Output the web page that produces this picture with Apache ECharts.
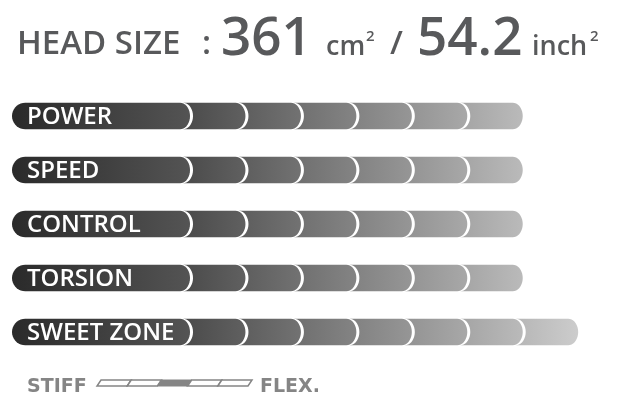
<!DOCTYPE html>
<html>
<head>
<meta charset="utf-8">
<script src="https://cdn.jsdelivr.net/npm/echarts@6/dist/echarts.min.js"></script>
<style>
  html, body { margin: 0; padding: 0; background: #fff; }
  #chart { width: 623px; height: 409px; }
</style>
</head>
<body>
<div id="chart"></div>
<script>
// data
const categories = ['POWER', 'SPEED', 'CONTROL', 'TORSION', 'SWEET ZONE']
const ratings = [6, 6, 6, 6, 7]
const headSizeCm = '361'
const headSizeInch = '54.2'
const flexSteps = [1, 2, 3, 4, 5]
const flexValue = 3

const LABEL_W = 3.21 // width of the label pill, in rating units
const GAP = 3
const RX = 10

const chart = echarts.init(document.getElementById('chart'))

function grey (v) {
  v = Math.max(0, Math.min(255, Math.round(v)))
  return 'rgb(' + v + ',' + v + ',' + v + ')'
}

// convex right end, top -> bottom
function rightEnd (pts, xt, cy, ry) {
  for (let a = -90; a <= 90; a += 10) {
    const t = a * Math.PI / 180
    pts.push([xt - RX + RX * Math.cos(t), cy + ry * Math.sin(t)])
  }
}

function renderRow (params, api) {
  const cat = api.value(0)
  const n = api.value(1)
  const h = api.size([0, 1])[1] * 0.49
  const ry = h / 2
  const start = api.coord([0, cat])
  const cy = start[1]
  const children = []

  // label pill
  const xl = start[0]
  const xt = api.coord([LABEL_W, cat])[0]
  const pill = []
  for (let a = 90; a <= 270; a += 10) {
    const t = a * Math.PI / 180
    pill.push([xl + ry + ry * Math.cos(t), cy + ry * Math.sin(t)])
  }
  rightEnd(pill, xt, cy, ry)
  children.push({
    type: 'polygon',
    shape: { points: pill },
    style: {
      fill: new echarts.graphic.LinearGradient(0, 0, 1, 0, [
        { offset: 0, color: grey(42) },
        { offset: 1, color: grey(84) }
      ])
    }
  })
  children.push({
    type: 'text',
    x: xl + 15,
    y: cy + 1,
    style: {
      text: categories[cat],
      fill: '#fff',
      font: '600 24px "Open Sans"',
      verticalAlign: 'middle'
    }
  })

  // rating segments
  for (let k = 1; k <= n; k++) {
    const x0 = api.coord([LABEL_W + k - 1, cat])[0] + GAP
    const x1 = api.coord([LABEL_W + k, cat])[0]
    const pts = []
    for (let a = 90; a >= -90; a -= 10) {
      const t = a * Math.PI / 180
      pts.push([x0 - RX + RX * Math.cos(t), cy + ry * Math.sin(t)])
    }
    rightEnd(pts, x1, cy, ry)
    const c = 74 + (k - 1) * 18
    children.push({
      type: 'polygon',
      shape: { points: pts },
      style: {
        fill: new echarts.graphic.LinearGradient(0, 0, 1, 0, [
          { offset: 0, color: grey(c) },
          { offset: 1, color: grey(c + 22) }
        ])
      }
    })
  }
  return { type: 'group', children: children }
}

function renderFlex (params, api) {
  const i = api.value(0)
  const bl = api.coord([i, 0])
  const tr = api.coord([i + 1, 1])
  const s = 4
  const filled = api.value(1) === flexValue
  return {
    type: 'polygon',
    shape: {
      points: [[bl[0] + s, tr[1]], [tr[0] + s, tr[1]], [tr[0], bl[1]], [bl[0], bl[1]]]
    },
    style: filled
      ? { fill: '#858585', stroke: '#858585', lineWidth: 1 }
      : { fill: '#fff', stroke: '#858585', lineWidth: 1.5 }
  }
}

const titleColor = '#58595b'
const big = '600 53px "Open Sans"'
const mid = '600 33px "Open Sans"'
const small = '600 27px "Open Sans"'
const sup = '600 15px "Open Sans"'
const option = {
  animation: false,
  grid: [
    { left: 12, top: 89, width: 610, height: 270 },
    { left: 97, top: 380, width: 151, height: 6 }
  ],
  xAxis: [
    { type: 'value', gridIndex: 0, min: 0, max: 11, show: false },
    { type: 'value', gridIndex: 1, min: 0, max: flexSteps.length, show: false }
  ],
  yAxis: [
    { type: 'category', gridIndex: 0, data: categories, inverse: true, show: false },
    { type: 'value', gridIndex: 1, min: 0, max: 1, show: false }
  ],
  graphic: [
    { type: 'text', x: 17, y: 45, style: { text: 'HEAD SIZE', font: mid, fill: titleColor, verticalAlign: 'middle' } },
    { type: 'text', x: 202, y: 45, style: { text: ':', font: mid, fill: titleColor, verticalAlign: 'middle' } },
    { type: 'text', x: 221, y: 39.5, style: { text: headSizeCm, font: big, fill: titleColor, verticalAlign: 'middle' } },
    { type: 'text', x: 326, y: 47, style: { text: 'cm', font: small, fill: titleColor, verticalAlign: 'middle' } },
    { type: 'text', x: 366, y: 37, style: { text: '2', font: sup, fill: titleColor, verticalAlign: 'middle' } },
    { type: 'text', x: 390, y: 45, style: { text: '/', font: mid, fill: titleColor, verticalAlign: 'middle' } },
    { type: 'text', x: 417, y: 39.5, style: { text: headSizeInch, font: big, fill: titleColor, verticalAlign: 'middle' } },
    { type: 'text', x: 532, y: 47, style: { text: 'inch', font: small, fill: titleColor, verticalAlign: 'middle' } },
    { type: 'text', x: 590, y: 37, style: { text: '2', font: sup, fill: titleColor, verticalAlign: 'middle' } },
    { type: 'text', x: 27, y: 387, style: { text: 'STIFF', font: 'bold 19px "DejaVu Sans"', fill: '#858585', verticalAlign: 'middle' } },
    { type: 'text', x: 260, y: 387, style: { text: 'FLEX.', font: 'bold 19px "DejaVu Sans"', fill: '#858585', verticalAlign: 'middle' } }
  ],
  series: [
    {
      type: 'custom',
      xAxisIndex: 0,
      yAxisIndex: 0,
      clip: false,
      renderItem: renderRow,
      data: categories.map((c, i) => [i, ratings[i]])
    },
    {
      type: 'custom',
      xAxisIndex: 1,
      yAxisIndex: 1,
      clip: false,
      renderItem: renderFlex,
      data: flexSteps.map((s, i) => [i, s])
    }
  ]
}
chart.setOption(option)
</script>
</body>
</html>
